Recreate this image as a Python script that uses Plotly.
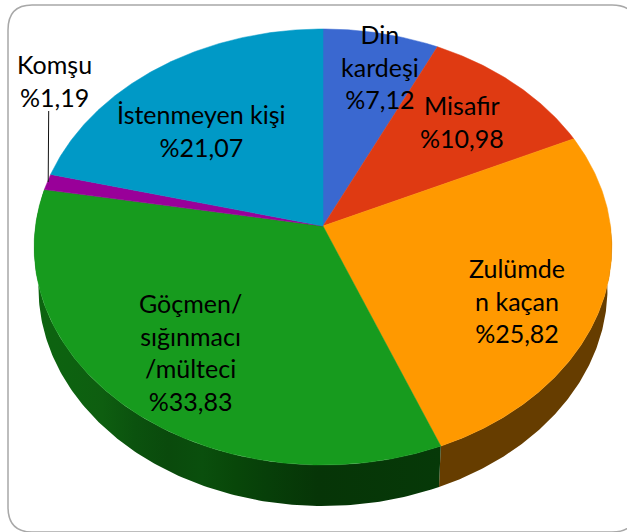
import numpy as np
import plotly.graph_objects as go

# ---- data ----
categories = ["Din<br>kardeşi", "Misafir", "Zulümde<br>n kaçan",
              "Göçmen/<br>sığınmacı<br>/mülteci", "Komşu", "İstenmeyen kişi"]
values = [7.12, 10.98, 25.82, 33.83, 1.19, 21.07]
value_labels = ["%7,12", "%10,98", "%25,82", "%33,83", "%1,19", "%21,07"]

# ---- style ----
top_colors = ["#3A68D0", "#DF3A12", "#FF9900", "#179B1E", "#990099", "#0099C6"]
# wall shading: (page x, colour)
wall_stops = {
    2: [(430, "#663D00"), (615, "#663D00")],
    3: [(35, "#0D6410"), (68, "#0D6210"), (102, "#0E5E10"), (135, "#0B520E"), (168, "#0A4A0C"),
        (202, "#0A4F0D"), (235, "#084709"), (268, "#073F09"), (318, "#063507"), (445, "#063908")],
}
label_pos = [(380, 66), (462, 121), (517, 300), (190, 352), (54, 80), (201, 130)]
CX, CY, RX, RY, K = 323.0, 226.0, 287.5, 216.0, 0.0963
DEPTH, WALL_SCALE = 41.0, 0.985
FONT = "Lato, Carlito, Calibri, sans-serif"


def project(theta_deg, scale=1.0, dy=0.0):
    """Perspective view of a point on the pie's rim; theta clockwise from 12 o'clock."""
    t = np.radians(theta_deg)
    u, v = np.sin(t), np.cos(t)
    w = 1 + K * v
    return CX + scale * RX * u / w, CY - RY * v / w + dy


def poly(x, y, color):
    return go.Scatter(x=x, y=y, mode="lines", fill="toself", fillcolor=color,
                      line=dict(color=color, width=0.5), hoverinfo="skip", showlegend=False)


edges = np.cumsum([0] + values) / sum(values) * 360.0
fig = go.Figure()

# side wall: one shape per slice, horizontal gradient for the shading
for i, stops in wall_stops.items():
    a0, a1 = max(edges[i], 90), min(edges[i + 1], 282)
    th = np.linspace(a0, a1, 160)
    tx, ty = project(th)
    bx, by = project(th[::-1], WALL_SCALE, DEPTH)
    x = np.r_[tx, bx, tx[0]]
    y = np.r_[ty, by, ty[0]]
    lo, hi = x.min(), x.max()
    scale = [[float(np.clip((p - lo) / (hi - lo), 0, 1)), c] for p, c in stops]
    scale = [s for j, s in enumerate(scale) if j == 0 or s[0] > scale[j - 1][0]]
    scale[0][0], scale[-1][0] = 0.0, 1.0
    fig.add_trace(go.Scatter(x=x, y=y, mode="lines", fill="toself",
                             fillgradient=dict(type="horizontal", colorscale=scale),
                             line=dict(width=0), hoverinfo="skip", showlegend=False))

# top face
for i, color in enumerate(top_colors):
    n = max(int((edges[i + 1] - edges[i]) / 0.5), 2)
    th = np.linspace(edges[i], edges[i + 1], n + 1)
    x, y = project(th)
    fig.add_trace(poly(np.r_[CX, x, CX], np.r_[CY, y, CY], color))

# labels
for cat, val, (lx, ly) in zip(categories, value_labels, label_pos):
    fig.add_annotation(x=lx, y=ly, text=f"{cat}<br>{val}", showarrow=False, align="center",
                       xanchor="center", yanchor="middle",
                       font=dict(family=FONT, size=25, color="#000000"))

fig.update_layout(
    width=627, height=532, margin=dict(l=0, r=0, t=0, b=0),
    paper_bgcolor="white", plot_bgcolor="white", showlegend=False,
    xaxis=dict(range=[0, 627], visible=False, fixedrange=True),
    yaxis=dict(range=[532, 0], visible=False, fixedrange=True),
    shapes=[
        dict(type="path", xref="x", yref="y", layer="below",
             path="M 32 5 L 612 5 Q 637 5 637 30 L 637 507 Q 637 532 612 532 L 32 532 Q 8 532 8 507 L 8 30 Q 8 5 32 5 Z",
             line=dict(color="#A8A8A8", width=1.5)),
        dict(type="line", xref="x", yref="y", x0=48.7, y0=111, x1=48.2, y1=182,
             line=dict(color="#111111", width=1)),
    ],
)

fig.write_html("out.html", config=dict(displayModeBar=False),
               post_script="document.body.style.margin='0';document.body.style.overflow='hidden';")
